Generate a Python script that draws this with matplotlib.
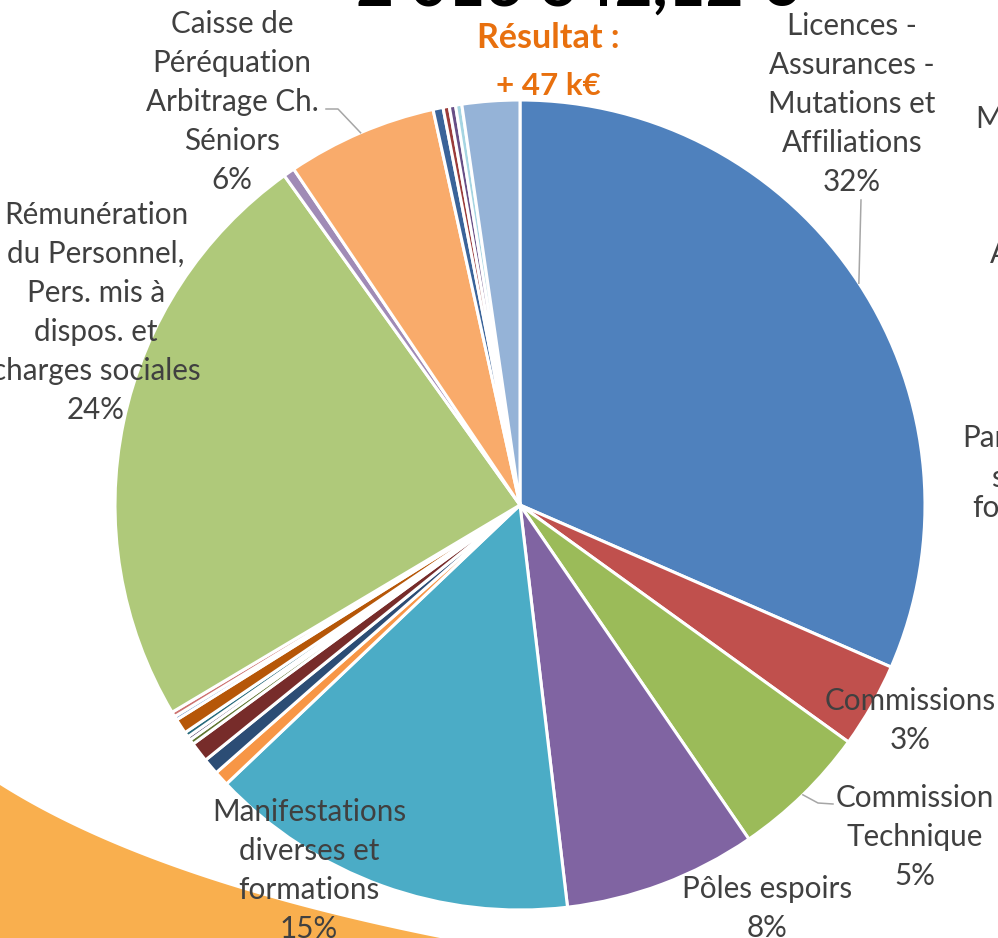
import numpy as np
import matplotlib.pyplot as plt
from matplotlib.patches import Polygon

W, H = 998, 938
CX, CY, R = 520, 505, 405      # centre et rayon du camembert (pixels)

# postes de dépenses, parts (%), dans l'ordre horaire depuis midi
libelles = [
    "Licences -\nAssurances -\nMutations et\nAffiliations",
    "Commissions",
    "Commission\nTechnique",
    "Pôles espoirs",
    "Manifestations\ndiverses et\nformations",
    None, None, None, None, None, None, None, None, None,
    "Rémunération\ndu Personnel,\nPers. mis à\ndispos. et\ncharges sociales",
    None,
    "Caisse de\nPéréquation\nArbitrage Ch.\nSéniors",
    None, None, None, None,
    None,
]
parts = [31.6, 3.4, 5.5, 7.7, 14.8,
         0.6, 0.65, 0.8, 0.2, 0.15, 0.2, 0.6, 0.15, 0.2,
         23.7, 0.45, 6.0,
         0.4, 0.25, 0.25, 0.25, 2.3]
couleurs = ["#4F81BD", "#C0504D", "#9BBB59", "#8064A2", "#4BACC6",
            "#F79646", "#2C4D75", "#772C2A", "#5F7530", "#4D3B62", "#276A7C",
            "#B65708", "#729ACA", "#CD7371",
            "#AFC97A", "#A08BB6", "#F9AB6B",
            "#3A6399", "#9B3C3A", "#674F86", "#A5D5E2", "#95B3D7"]

resultat = "+ 47 k€"
titre = "2 016 642,12 €"

# position des étiquettes : x du centre, ligne de base de la 1re ligne (pixels)
pos_etiq = {0: (852, 35), 1: (910, 710), 2: (915, 807), 3: (767, 898),
            4: (309, 821), 14: (96, 224), 16: (232, 33)}
# lignes de rappel (points côté étiquette)
rappels = {16: [(338, 109), (326, 109)], 0: [(861, 200)], 2: [(818, 803), (833, 804)]}

GRIS = "#404040"
FS = 21.3
PAS = 39

plt.rcParams['font.family'] = ['Lato', 'DejaVu Sans']
fig = plt.figure(figsize=(W / 100, H / 100), dpi=100)


def fx(x):
    return x / W


def fy(y):
    return 1 - y / H


def px2d(x, y):
    return (x - CX) / R, (CY - y) / R


# bandeau orange en bas à gauche
t = np.linspace(0, 1, 60)
bx = 2 * t * (1 - t) * 150 + t ** 2 * 440
by = (1 - t) ** 2 * 785 + 2 * t * (1 - t) * 880 + t ** 2 * 938
pts = [(fx(a), fy(b)) for a, b in zip(bx, by)] + [(0, 0)]
fig.add_artist(Polygon(pts, closed=True, facecolor="#F9AF4E", edgecolor='none',
                       transform=fig.transFigure, zorder=0))

ax = fig.add_axes([fx(CX - R), fy(CY + R), 2 * R / W, 2 * R / H])
ax.set_zorder(1)
wedges, _ = ax.pie(parts, colors=couleurs, startangle=90, counterclock=False,
                   wedgeprops=dict(edgecolor='white', linewidth=2.2))
ax.set_xlim(-1, 1)
ax.set_ylim(-1, 1)
ax.axis('off')

total = sum(parts)
for i, (x, y0) in pos_etiq.items():
    lignes = libelles[i].split("\n") + [f"{round(100 * parts[i] / total)}%"]
    for k, l in enumerate(lignes):
        fig.text(fx(x), fy(y0 + k * PAS), l, ha='center', va='baseline',
                 fontsize=FS, color=GRIS, zorder=5)

for i, chemin in rappels.items():
    w = wedges[i]
    a = np.radians((w.theta1 + w.theta2) / 2)
    xs = [np.cos(a)] + [px2d(*p)[0] for p in chemin]
    ys = [np.sin(a)] + [px2d(*p)[1] for p in chemin]
    ax.plot(xs, ys, color="#A6A6A6", lw=1.1, clip_on=False)

# titre et résultat
fig.text(fx(577), fy(6), titre, ha='center', va='baseline', fontsize=47,
         fontweight='bold', color='black')
fig.text(fx(548), fy(48), "Résultat :", ha='center', va='baseline', fontsize=24.5,
         fontweight='bold', color="#E8700E")
fig.text(fx(548), fy(95), resultat, ha='center', va='baseline', fontsize=22.5,
         fontweight='bold', color="#E8700E")

# étiquettes du graphique voisin, coupées par le bord
for x, y, s in [(975, 128, "M"), (990, 263, "A"), (962, 447, "Par"),
                (991, 487, "s"), (972, 517, "fo")]:
    fig.text(fx(x), fy(y), s, ha='left', va='baseline', fontsize=FS, color=GRIS)

fig.savefig("out.png", dpi=100)
